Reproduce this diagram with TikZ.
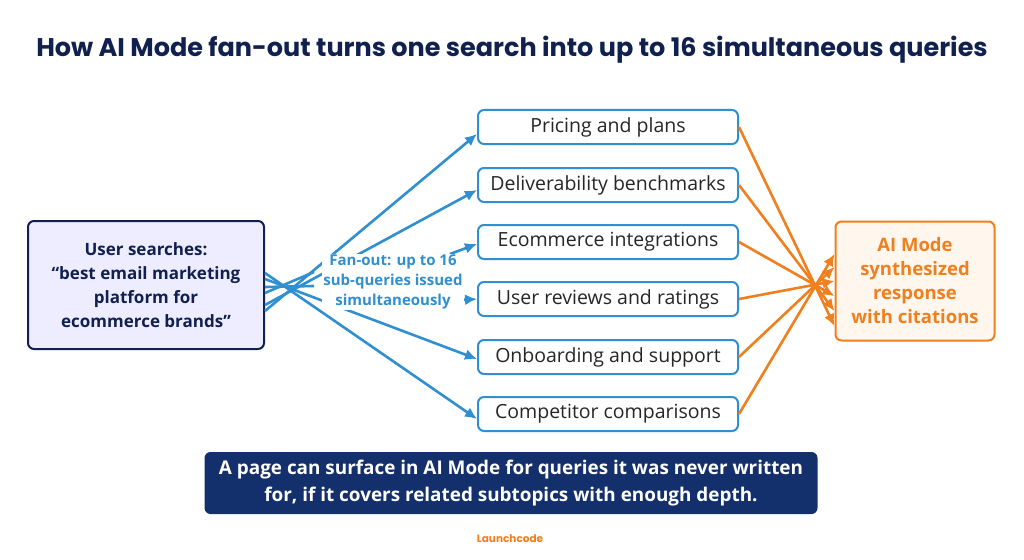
\documentclass[tikz,border=0pt]{standalone}
\usepackage{fontspec}
\setmainfont{Poppins}
\newfontfamily\opensans{Open Sans}
\usetikzlibrary{arrows.meta}
\definecolor{navy}{HTML}{10204F}
\definecolor{bblue}{HTML}{2F8FD0}
\definecolor{orng}{HTML}{F07F1E}
\definecolor{banner}{HTML}{13306C}
\begin{document}
\begin{tikzpicture}[x=1pt,y=-1pt,
 mid/.style={draw=bblue,line width=2pt,rounded corners=6pt,fill=white,minimum width=260pt,minimum height=34pt,font=\opensans\fontsize{19.5}{22}\selectfont,text=black!85},
 barr/.style={draw=bblue,line width=2.6pt,-{Latex[length=12pt,width=11pt]}},
 oarr/.style={draw=orng,line width=2.6pt,-{Latex[length=12pt,width=11pt]}}]
\useasboundingbox (0,0) rectangle (1024,559);
\fill[white] (0,0) rectangle (1024,559);
\node[font=\bfseries\fontsize{25.5}{28}\selectfont,text=navy] (title) at (512,50) {How AI Mode fan-out turns one search into up to 16 simultaneous queries};
\node[draw=navy,line width=2pt,rounded corners=6pt,fill=blue!7,minimum width=236pt,minimum height=128pt,align=center,font=\opensans\bfseries\fontsize{17}{24}\selectfont,text=navy] (user) at (146,285) {User searches:\\“best email marketing\\platform for\\ecommerce brands”};
\node[mid] (m1) at (608,127) {Pricing and plans};
\node[mid] (m2) at (608,185) {Deliverability benchmarks};
\node[mid] (m3) at (608,242) {Ecommerce integrations};
\node[mid] (m4) at (608,299) {User reviews and ratings};
\node[mid] (m5) at (608,357) {Onboarding and support};
\node[mid] (m6) at (608,414) {Competitor comparisons};
\node[draw=orng,line width=2pt,rounded corners=6pt,fill=orange!7,minimum width=159pt,minimum height=119pt,align=center,font=\opensans\bfseries\fontsize{18.5}{24}\selectfont,text=orng] (ai) at (915,281) {AI Mode\\synthesized\\response\\with citations};
\coordinate (f1) at (314,272);
\coordinate (f2) at (314,286);
\draw[barr] ([yshift=-26pt]user.east) -- ([yshift=-7pt]m1.west);
\draw[barr] ([yshift=-20pt]user.east) -- ([yshift=-5pt]m2.west);
\draw[bblue,line width=2.6pt] ([yshift=-8pt]user.east) -- (f1);
\draw[bblue,line width=2.6pt] ([yshift=-2pt]user.east) -- (f2);
\draw[barr] (450,254) -- ([yshift=-2pt]m3.west);
\draw[barr] (460,300) -- (m4.west);
\draw[barr] ([yshift=6pt]user.east) -- ([yshift=-2pt]m5.west);
\draw[barr] ([yshift=12pt]user.east) -- ([yshift=-5pt]m6.west);
\node[fill=white,inner sep=1pt,align=center,font=\opensans\bfseries\fontsize{15}{20}\selectfont,text=bblue] (fan) at (393,282) {Fan-out: up to 16\\sub-queries issued\\simultaneously};
\draw[oarr] (m1.east) -- ([yshift=-45pt]ai.west);
\draw[oarr] (m2.east) -- ([yshift=-30pt]ai.west);
\draw[oarr] (m3.east) -- ([yshift=-15pt]ai.west);
\draw[oarr] (m4.east) -- ([yshift=0pt]ai.west);
\draw[oarr] (m5.east) -- ([yshift=14pt]ai.west);
\draw[oarr] (m6.east) -- ([yshift=27pt]ai.west);
\node[fill=banner,rounded corners=6pt,minimum width=613pt,minimum height=62pt,align=center,font=\opensans\bfseries\fontsize{18.9}{27}\selectfont,text=white] (ban) at (511,483) {A page can surface in AI Mode for queries it was never written\\for, if it covers related subtopics with enough depth.};
\node[font=\bfseries\fontsize{10.5}{12}\selectfont,text=orng] (logo) at (510,539) {Launchcode};
\end{tikzpicture}
\end{document}
